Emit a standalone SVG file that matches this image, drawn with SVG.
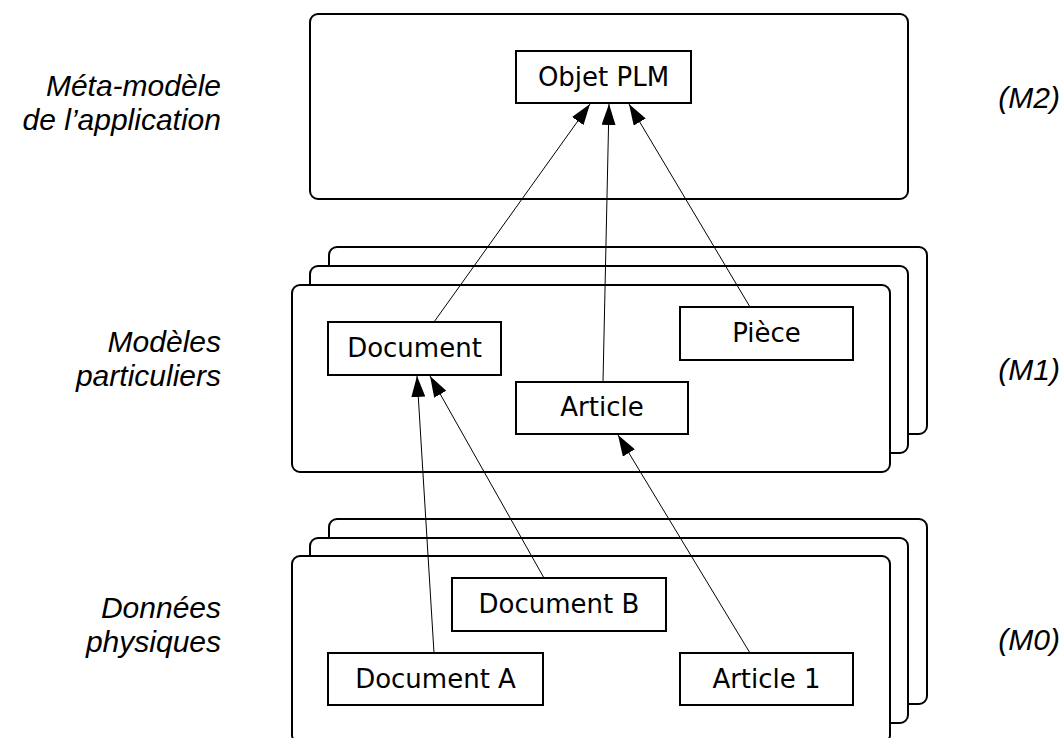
<svg xmlns="http://www.w3.org/2000/svg" width="1064" height="738" viewBox="0 0 1064 738">
<style>
.cont{fill:#fff;stroke:#000;stroke-width:2}
.box{fill:#fff;stroke:#000;stroke-width:2}
.bt{font-family:"DejaVu Sans",Verdana,sans-serif;font-size:26px;fill:#000;text-anchor:middle}
.lab{font-family:"Liberation Sans",Arial,sans-serif;font-size:30px;font-style:italic;fill:#000;text-anchor:end}
.conn{stroke:#000;stroke-width:1;fill:none;marker-end:url(#ah)}
</style>
<defs>
<marker id="ah" markerUnits="userSpaceOnUse" markerWidth="22" markerHeight="14" refX="21" refY="7" orient="auto">
<path d="M0,0 L21,7 L0,14 Z" fill="#000"/>
</marker>
</defs>
<rect width="1064" height="738" fill="#fff"/>
<g id="labels">
<text class="lab" x="221" y="96">Méta-modèle</text>
<text class="lab" x="221" y="130">de l’application</text>
<text class="lab" x="221" y="352">Modèles</text>
<text class="lab" x="221" y="386">particuliers</text>
<text class="lab" x="221" y="618">Données</text>
<text class="lab" x="221" y="652">physiques</text>
<text class="lab" x="1060" y="108">(M2)</text>
<text class="lab" x="1060" y="380">(M1)</text>
<text class="lab" x="1060" y="650">(M0)</text>
</g>
<g id="layer-m2">
<rect class="cont" x="310" y="14" width="598" height="185" rx="8"/>
</g>
<g id="layer-m1">
<rect class="cont" x="329" y="247" width="598" height="187" rx="8"/>
<rect class="cont" x="310" y="266" width="598" height="187" rx="8"/>
<rect class="cont" x="292" y="285" width="598" height="187" rx="8"/>
</g>
<g id="layer-m0">
<rect class="cont" x="329" y="519" width="598" height="185" rx="8"/>
<rect class="cont" x="310" y="538" width="598" height="185" rx="8"/>
<rect class="cont" x="292" y="556" width="598" height="187" rx="8"/>
</g>
<g id="objet-plm">
<rect class="box" x="516" y="51" width="175" height="52"/>
<text class="bt" x="603.5" y="86">Objet PLM</text>
</g>
<g id="document">
<rect class="box" x="328" y="322" width="173" height="53"/>
<text class="bt" x="414.5" y="357">Document</text>
</g>
<g id="article">
<rect class="box" x="516" y="382" width="172" height="52"/>
<text class="bt" x="602" y="416">Article</text>
</g>
<g id="piece">
<rect class="box" x="680" y="307" width="173" height="53"/>
<text class="bt" x="766.5" y="342">Pièce</text>
</g>
<g id="document-b">
<rect class="box" x="452" y="578" width="214" height="53"/>
<text class="bt" x="559" y="613">Document B</text>
</g>
<g id="document-a">
<rect class="box" x="328" y="653" width="215" height="52"/>
<text class="bt" x="435.5" y="688">Document A</text>
</g>
<g id="article-1">
<rect class="box" x="680" y="653" width="173" height="52"/>
<text class="bt" x="766.5" y="688">Article 1</text>
</g>
<g id="connectors">
<line class="conn" x1="434" y1="322" x2="590" y2="104"/>
<line class="conn" x1="603" y1="382" x2="609" y2="104"/>
<line class="conn" x1="750" y1="307" x2="629" y2="104"/>
<line class="conn" x1="434" y1="653" x2="417" y2="376"/>
<line class="conn" x1="544" y1="578" x2="430" y2="376"/>
<line class="conn" x1="750" y1="653" x2="618" y2="435"/>
</g>
</svg>
